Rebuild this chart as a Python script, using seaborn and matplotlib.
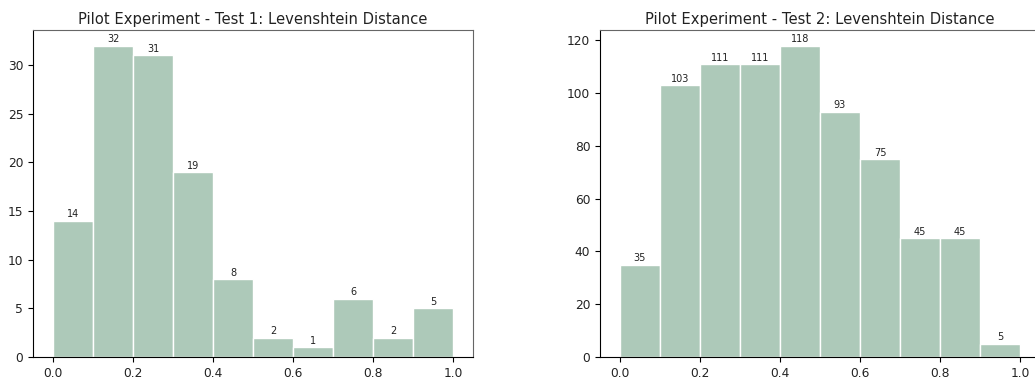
import matplotlib
matplotlib.use("Agg")
import matplotlib.pyplot as plt
import seaborn as sns
import numpy as np
import pandas as pd

bin_edges = [0.0, 0.1, 0.2, 0.3, 0.4, 0.5, 0.6, 0.7, 0.8, 0.9, 1.0]
test1_counts = [14, 32, 31, 19, 8, 2, 1, 6, 2, 5]
test2_counts = [35, 103, 111, 111, 118, 93, 75, 45, 45, 5]
titles = ["Pilot Experiment - Test 1: Levenshtein Distance",
          "Pilot Experiment - Test 2: Levenshtein Distance"]
xticks = [0.0, 0.2, 0.4, 0.6, 0.8, 1.0]

bar_color = "#adc9b9"

W, H = 1035, 381
dpi = 100
fig = plt.figure(figsize=(W / dpi, H / dpi), dpi=dpi)

positions = [
    (33 / W, (H - 357) / H, (473 - 33) / W, (357 - 30) / H),
    (600 / W, (H - 357) / H, (1040 - 600) / W, (357 - 30) / H),
]

for pos, counts, title in zip(positions, [test1_counts, test2_counts], titles):
    ax = fig.add_axes(pos)
    centers = [(a + b) / 2 for a, b in zip(bin_edges[:-1], bin_edges[1:])]
    df = pd.DataFrame({"x": centers, "w": counts})
    sns.histplot(data=df, x="x", weights="w", bins=bin_edges, ax=ax,
                 color=bar_color, alpha=1.0, edgecolor="white", linewidth=1.0)
    ax.set_xlabel("")
    ax.set_ylabel("")
    ax.set_title(title, fontsize=10.6, pad=4, color="#222222")
    ax.set_xticks(xticks)
    ax.set_xticklabels([f"{t:.1f}" for t in xticks])
    ax.tick_params(labelsize=8.8, labelcolor="#222222")
    for c in ax.containers:
        ax.bar_label(c, fontsize=7, padding=1, color="#222222")
    for s in ["top", "right"]:
        ax.spines[s].set_color("#666666")
    ax.margins(x=0.05, y=0.05)
    ax.set_ylim(0, max(counts) * 1.05)

fig.savefig("out.png", dpi=dpi)
